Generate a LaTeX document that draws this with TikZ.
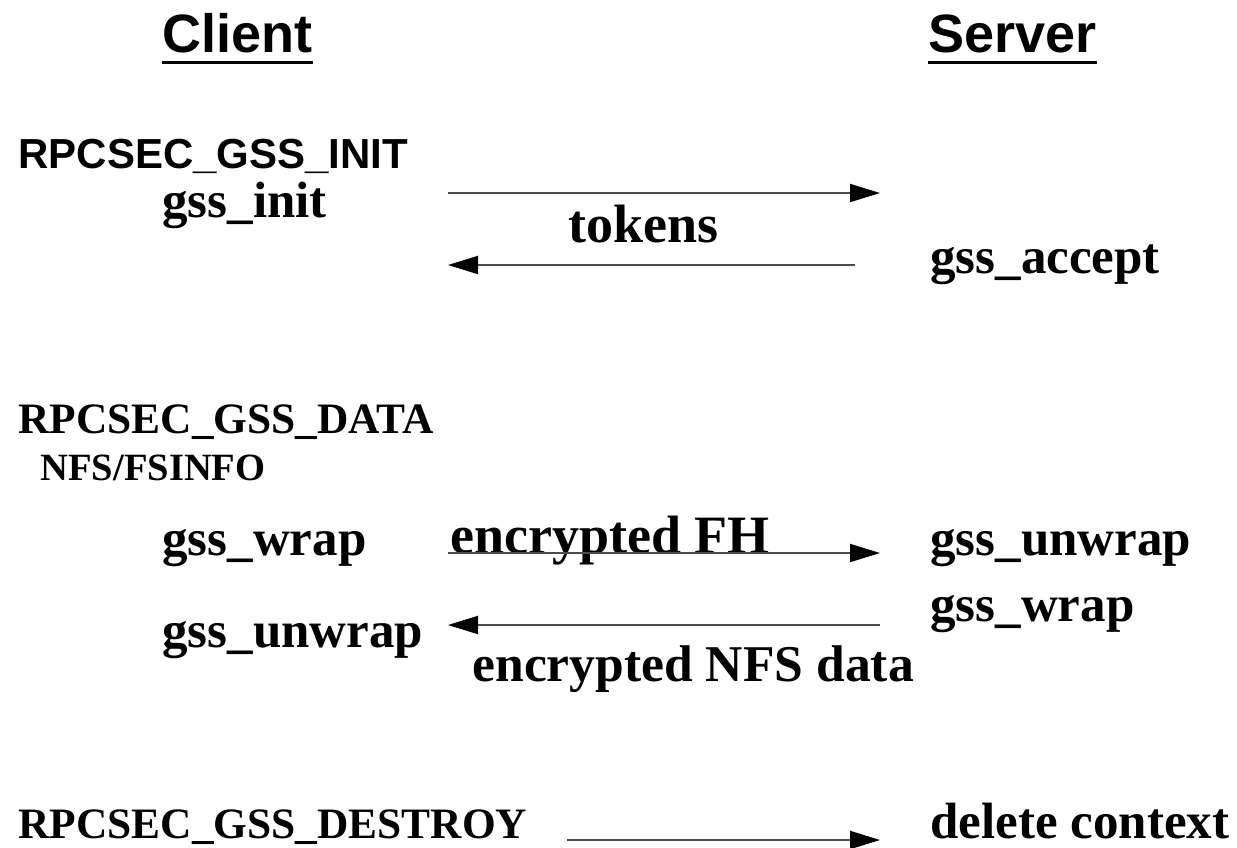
\documentclass[tikz,border=0pt]{standalone}
\usepackage{fontspec}
\setmainfont{Liberation Serif}
\setsansfont{Liberation Sans}
\usetikzlibrary{arrows.meta}

\begin{document}
\begin{tikzpicture}[
      x=0.5pt, y=-0.5pt,
      side/.style={font=\sffamily\bfseries\fontsize{27}{30}\selectfont, inner sep=0, anchor=base west},
      call/.style={font=\bfseries\fontsize{#1}{24}\selectfont, inner sep=0, anchor=base west},
      call/.default=21.7,
      callsans/.style={font=\sffamily\bfseries\fontsize{21}{24}\selectfont, inner sep=0, anchor=base west},
      op/.style={font=\bfseries\fontsize{25.5}{28}\selectfont, inner sep=0, anchor=base west},
      msg/.style={font=\bfseries\fontsize{#1}{28}\selectfont, inner sep=0, anchor=base west},
      msg/.default=26,
      flow/.style={draw=black!70, line width=1pt, -{Triangle[length=15pt,width=9pt,color=black]}}]
    \useasboundingbox (0,0) rectangle (1237,847);

    % headings
    \node[side] (client) at (162,52) {Client};
    \node[side] (server) at (928,52) {Server};
    \draw[line width=1.5pt] ([yshift=-5pt]client.base west) -- ([yshift=-5pt]client.base east);
    \draw[line width=1.5pt] ([yshift=-5pt]server.base west) -- ([yshift=-5pt]server.base east);

    % context setup
    \node[callsans] (init) at (18,168) {RPCSEC\_GSS\_INIT};
    \node[op] (gssinit) at (162,217) {gss\_init};
    \node[msg=27] (tokens) at (568,242) {tokens};
    \node[op] (accept) at (930,273) {gss\_accept};
    \coordinate (t1a) at (448,193);
    \coordinate (t1b) at (880,193);
    \coordinate (t2a) at (855,265);
    \coordinate (t2b) at (448,265);
    \draw[flow] (t1a) -- (t1b);
    \draw[flow] (t2a) -- (t2b);

    % data exchange
    \node[call] (data) at (18,433) {RPCSEC\_GSS\_DATA};
    \node[call=19.3] (fsinfo) at (40,480) {NFS/FSINFO};
    \node[op] (wrapc) at (162,555) {gss\_wrap};
    \node[msg=27] (encfh) at (450,553) {encrypted FH};
    \node[op] (unwraps) at (930,555) {gss\_unwrap};
    \node[op] (wraps) at (930,621) {gss\_wrap};
    \node[op] (unwrapc) at (162,647) {gss\_unwrap};
    \node[msg=25.8] (encdata) at (472,681) {encrypted NFS data};
    \coordinate (d1a) at (448,553);
    \coordinate (d1b) at (880,553);
    \coordinate (d2a) at (880,625);
    \coordinate (d2b) at (448,625);
    \draw[flow] (d1a) -- (d1b);
    \draw[flow] (d2a) -- (d2b);

    % teardown
    \node[call] (destroy) at (18,838) {RPCSEC\_GSS\_DESTROY};
    \node[op] (delctx) at (930,838) {delete context};
    \coordinate (x1a) at (567,840);
    \coordinate (x1b) at (880,840);
    \draw[flow] (x1a) -- (x1b);
\end{tikzpicture}
\end{document}
